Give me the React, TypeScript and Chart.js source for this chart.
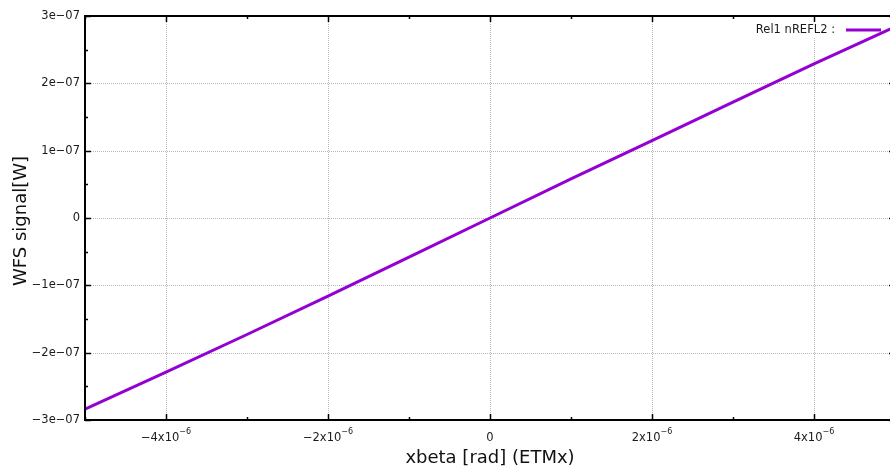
import React, { useEffect, useRef } from "react";
import { Chart, registerables } from "chart.js";

Chart.register(...registerables);

// Tilt of the beam (rad) and the resulting WFS signal (W)
const xbetaValues = [-5e-6, -4e-6, -3e-6, -2e-6, -1e-6, 0, 1e-6, 2e-6, 3e-6, 4e-6, 5e-6];
const signalValues = [
  -2.84e-7, -2.29e-7, -1.73e-7, -1.16e-7, -0.58e-7, 0, 0.58e-7, 1.15e-7, 1.72e-7, 2.29e-7, 2.84e-7,
];

const seriesLabel = "Rel1 nREFL2 :";
const xTitle = "xbeta [rad] (ETMx)";
const yTitle = "WFS signal[W]";

const xMajorTicks = [-4e-6, -2e-6, 0, 2e-6, 4e-6];
const xTickMantissa = ["\u22124x10", "\u22122x10", "0", "2x10", "4x10"];
const xTickExponent = ["\u22126", "\u22126", "", "\u22126", "\u22126"];
const xMinorTicks = [-5e-6, -3e-6, -1e-6, 1e-6, 3e-6, 5e-6];

const yMajorTicks = [-3e-7, -2e-7, -1e-7, 0, 1e-7, 2e-7, 3e-7];
const yTickLabels = ["\u22123e\u221207", "\u22122e\u221207", "\u22121e\u221207", "0", "1e\u221207", "2e\u221207", "3e\u221207"];
const yMinorTicks = [-2.5e-7, -1.5e-7, -0.5e-7, 0.5e-7, 1.5e-7, 2.5e-7];

const LINE_COLOR = "#9400d3";
const TICK_FONT = "11.5px 'DejaVu Sans'";
const SUP_FONT = "8px 'DejaVu Sans'";
const TITLE_FONT = "18px 'DejaVu Sans'";

const frame = {
  id: "gnuplotFrame",
  beforeDatasetsDraw(chart: any) {
    const { ctx, chartArea: a, scales } = chart;
    const xs = scales.x;
    const ys = scales.y;
    ctx.save();

    // dotted grid at the major ticks
    ctx.strokeStyle = "#b8b8b8";
    ctx.lineWidth = 1;
    ctx.setLineDash([1, 1]);
    xMajorTicks.forEach((v) => {
      const px = Math.round(xs.getPixelForValue(v)) + 0.5;
      ctx.beginPath();
      ctx.moveTo(px, a.top);
      ctx.lineTo(px, a.bottom);
      ctx.stroke();
    });
    yMajorTicks.forEach((v) => {
      if (v === yMajorTicks[0] || v === yMajorTicks[yMajorTicks.length - 1]) return;
      const py = Math.round(ys.getPixelForValue(v)) + 0.5;
      ctx.beginPath();
      ctx.moveTo(a.left, py);
      ctx.lineTo(a.right, py);
      ctx.stroke();
    });
    ctx.setLineDash([]);

    // key: opaque box, text and sample line
    ctx.fillStyle = "#fff";
    ctx.fillRect(748, 22, 140, 16);
    ctx.fillStyle = "#1a1a1a";
    ctx.font = TICK_FONT;
    ctx.textAlign = "right";
    ctx.textBaseline = "middle";
    ctx.fillText(seriesLabel, 835, 30);
    ctx.strokeStyle = LINE_COLOR;
    ctx.lineWidth = 3;
    ctx.beginPath();
    ctx.moveTo(846, 30);
    ctx.lineTo(881, 30);
    ctx.stroke();

    // tick labels
    ctx.fillStyle = "#1a1a1a";
    ctx.font = TICK_FONT;
    ctx.textAlign = "right";
    ctx.textBaseline = "middle";
    yMajorTicks.forEach((v, i) => {
      ctx.fillText(yTickLabels[i], a.left - 5, ys.getPixelForValue(v));
    });
    ctx.textAlign = "left";
    ctx.textBaseline = "alphabetic";
    xMajorTicks.forEach((v, i) => {
      const px = xs.getPixelForValue(v);
      ctx.font = TICK_FONT;
      const wm = ctx.measureText(xTickMantissa[i]).width;
      ctx.font = SUP_FONT;
      const we = xTickExponent[i] ? ctx.measureText(xTickExponent[i]).width : 0;
      const x0 = px - (wm + we) / 2;
      ctx.font = TICK_FONT;
      ctx.fillText(xTickMantissa[i], x0, a.bottom + 21);
      if (we) {
        ctx.font = SUP_FONT;
        ctx.fillText(xTickExponent[i], x0 + wm, a.bottom + 14);
      }
    });

    // axis titles
    ctx.font = TITLE_FONT;
    ctx.fillStyle = "#111";
    ctx.textAlign = "center";
    ctx.textBaseline = "middle";
    ctx.fillText(xTitle, (a.left + a.right) / 2, 458);
    ctx.save();
    ctx.translate(21, 221);
    ctx.rotate(-Math.PI / 2);
    ctx.fillText(yTitle, 0, 0);
    ctx.restore();

    ctx.restore();
  },
  afterDatasetsDraw(chart: any) {
    const { ctx, chartArea: a, scales } = chart;
    const xs = scales.x;
    const ys = scales.y;
    ctx.save();
    ctx.strokeStyle = "#000";

    // inward ticks on all four sides
    ctx.lineWidth = 1.5;
    const xTick = (v: number, len: number) => {
      const px = Math.round(xs.getPixelForValue(v)) + 0.5;
      ctx.beginPath();
      ctx.moveTo(px, a.bottom);
      ctx.lineTo(px, a.bottom - len);
      ctx.moveTo(px, a.top);
      ctx.lineTo(px, a.top + len);
      ctx.stroke();
    };
    const yTick = (v: number, len: number) => {
      const py = Math.round(ys.getPixelForValue(v)) + 0.5;
      ctx.beginPath();
      ctx.moveTo(a.left, py);
      ctx.lineTo(a.left + len, py);
      ctx.moveTo(a.right, py);
      ctx.lineTo(a.right - len, py);
      ctx.stroke();
    };
    xMajorTicks.forEach((v) => xTick(v, 6));
    xMinorTicks.forEach((v) => xTick(v, 3));
    yMajorTicks.forEach((v) => yTick(v, 6));
    yMinorTicks.forEach((v) => yTick(v, 3));

    // border
    ctx.lineWidth = 2;
    ctx.strokeRect(a.left, a.top, a.right - a.left, a.bottom - a.top);
    ctx.restore();
  },
};

export default function App() {
  const canvasRef = useRef<HTMLCanvasElement | null>(null);

  useEffect(() => {
    if (!canvasRef.current) return;
    const chart = new Chart(canvasRef.current, {
      type: "line",
      data: {
        datasets: [
          {
            label: seriesLabel,
            data: xbetaValues.map((x, i) => ({ x, y: signalValues[i] })),
            borderColor: LINE_COLOR,
            backgroundColor: LINE_COLOR,
            borderWidth: 3,
            pointRadius: 0,
            tension: 0,
            fill: false,
          },
        ],
      },
      options: {
        responsive: false,
        animation: false,
        layout: { padding: { top: 16, right: 5, left: 0, bottom: 0 } },
        plugins: { legend: { display: false }, tooltip: { enabled: false } },
        scales: {
          x: {
            type: "linear",
            min: -5e-6,
            max: 5e-6,
            grid: { display: false },
            border: { display: false },
            ticks: { display: false },
            afterFit: (s: any) => {
              s.height = 53;
            },
          },
          y: {
            type: "linear",
            min: -3e-7,
            max: 3e-7,
            grid: { display: false },
            border: { display: false },
            ticks: { display: false },
            afterFit: (s: any) => {
              s.width = 85;
            },
          },
        },
      },
      plugins: [frame],
    });
    return () => chart.destroy();
  }, []);

  return (
    <div
      style={{
        position: "fixed",
        left: 0,
        top: 0,
        width: 890,
        height: 473,
        overflow: "hidden",
        background: "#fff",
      }}
    >
      <canvas ref={canvasRef} width={900} height={473} style={{ display: "block", width: 900, height: 473 }} />
    </div>
  );
}
